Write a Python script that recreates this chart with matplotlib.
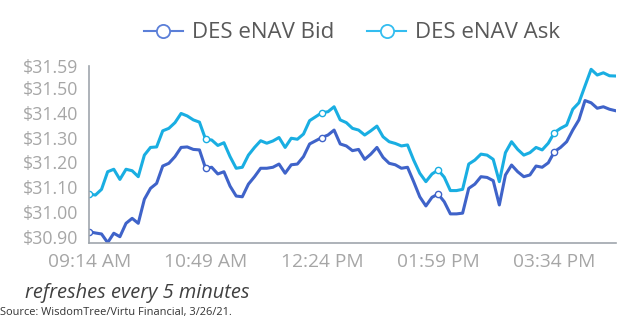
import matplotlib
matplotlib.use('Agg')
import matplotlib.pyplot as plt
from matplotlib.lines import Line2D

plt.rcParams['font.family'] = ['Open Sans', 'DejaVu Sans']

# 5-minute snapshots, 09:14 AM onward
bid = [30.920, 30.915, 30.911, 30.876, 30.914, 30.900, 30.954, 30.974, 30.954, 31.051,
       31.095, 31.115, 31.185, 31.196, 31.223, 31.260, 31.262, 31.252, 31.250, 31.176,
       31.180, 31.153, 31.162, 31.104, 31.064, 31.061, 31.112, 31.142, 31.176, 31.176,
       31.180, 31.193, 31.156, 31.190, 31.193, 31.223, 31.274, 31.287, 31.300, 31.310,
       31.330, 31.274, 31.266, 31.247, 31.252, 31.212, 31.233, 31.260, 31.220, 31.196,
       31.190, 31.176, 31.180, 31.122, 31.061, 31.024, 31.059, 31.072, 31.041, 30.992,
       30.992, 30.995, 31.095, 31.112, 31.142, 31.139, 31.126, 31.028, 31.149, 31.189,
       31.162, 31.142, 31.149, 31.185, 31.180, 31.198, 31.243, 31.260, 31.283, 31.330,
       31.371, 31.449, 31.440, 31.418, 31.424, 31.414, 31.408]
ask = [31.072, 31.068, 31.091, 31.162, 31.172, 31.131, 31.172, 31.166, 31.142, 31.229,
       31.260, 31.262, 31.327, 31.337, 31.360, 31.397, 31.387, 31.371, 31.362, 31.293,
       31.290, 31.268, 31.279, 31.223, 31.176, 31.180, 31.229, 31.260, 31.287, 31.277,
       31.286, 31.300, 31.260, 31.297, 31.293, 31.314, 31.368, 31.384, 31.400, 31.404,
       31.424, 31.371, 31.360, 31.337, 31.330, 31.310, 31.327, 31.346, 31.303, 31.283,
       31.276, 31.266, 31.270, 31.209, 31.156, 31.122, 31.153, 31.169, 31.140, 31.086,
       31.086, 31.091, 31.193, 31.209, 31.233, 31.229, 31.212, 31.122, 31.239, 31.283,
       31.252, 31.229, 31.239, 31.260, 31.250, 31.277, 31.320, 31.337, 31.350, 31.414,
       31.440, 31.508, 31.575, 31.552, 31.561, 31.549, 31.548]
tick_labels = ['09:14 AM', '10:49 AM', '12:24 PM', '01:59 PM', '03:34 PM']
y_ticks = [30.90, 31.00, 31.10, 31.20, 31.30, 31.40, 31.50, 31.59]

bid_color = '#3f63c9'
ask_color = '#19aee2'
grey = '#a6a6a6'

x = list(range(len(bid)))
tick_pos = [i * 19 for i in range(len(tick_labels))]

fig = plt.figure(figsize=(6.26, 3.29), dpi=100)
ax = fig.add_axes([89.3 / 626, 86.1 / 329, 526.3 / 626, 177.3 / 329])

ax.plot(x, bid, color=bid_color, lw=2.2, marker='o', markevery=tick_pos,
        ms=4.5, mfc='white', mec=bid_color, mew=1)
ax.plot(x, ask, color=ask_color, lw=2.2, marker='o', markevery=tick_pos,
        ms=4.5, mfc='white', mec=ask_color, mew=1)

ax.set_xlim(0, len(bid) - 1)
ax.set_ylim(30.875, 31.59)
ax.set_xticks(tick_pos)
ax.set_xticklabels(tick_labels, fontsize=13.8)
ax.set_yticks(y_ticks)
ax.set_yticklabels(['$%.2f' % v for v in y_ticks], fontsize=12.8)
ax.tick_params(axis='both', length=0, colors=grey)
ax.tick_params(axis='y', pad=8)
ax.tick_params(axis='x', pad=7)
for s in ['top', 'right']:
    ax.spines[s].set_visible(False)
for s in ['left', 'bottom']:
    ax.spines[s].set_color('#a0a6ad')
    ax.spines[s].set_linewidth(1.2)

handles = [
    Line2D([], [], color='#5b7fd8', lw=1.5, marker='o', ms=9.5, mfc='white', mec='#5b7fd8', mew=1.3),
    Line2D([], [], color='#33bdf0', lw=1.5, marker='o', ms=9.5, mfc='white', mec='#33bdf0', mew=1.3),
]
fig.legend(handles, ['DES eNAV Bid', 'DES eNAV Ask'], loc='center',
           bbox_to_anchor=(352 / 626, 1 - 33 / 329), ncol=2, frameon=False,
           fontsize=16, labelcolor='#595959', handlelength=1.75,
           handletextpad=0.4, columnspacing=1.5)

fig.text(25 / 626, 1 - 293 / 329, 'refreshes every 5 minutes', style='italic',
         fontsize=14.4, color='#404040', va='center', ha='left')
fig.text(0, 1 - 313 / 329, 'Source: WisdomTree/Virtu Financial, 3/26/21.',
         fontsize=7.9, color='#333333', va='center', ha='left')

fig.savefig('out.png', dpi=100)
